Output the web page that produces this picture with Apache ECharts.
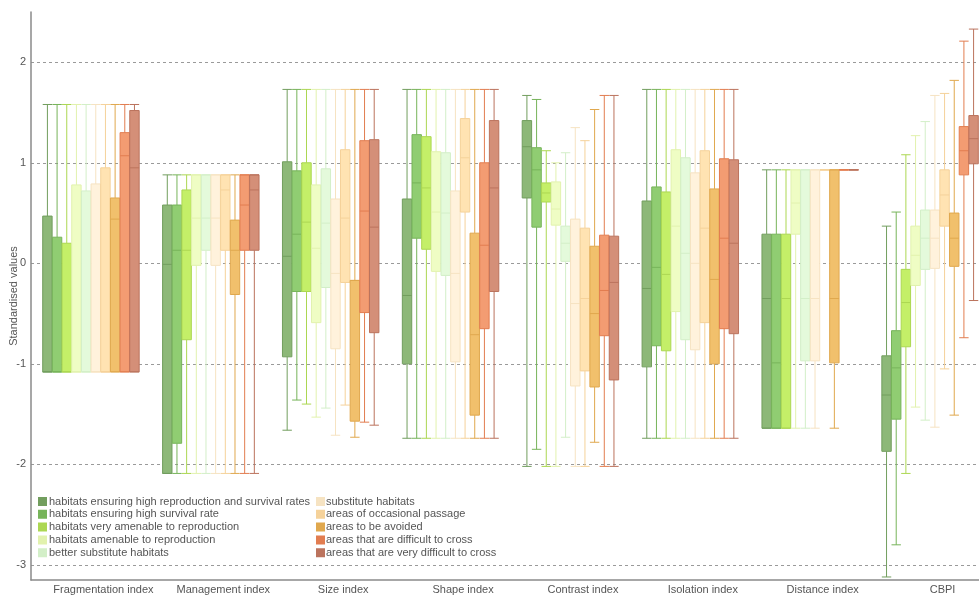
<!DOCTYPE html>
<html>
<head>
<meta charset="utf-8">
<script src="https://cdn.jsdelivr.net/npm/echarts@6/dist/echarts.min.js"></script>
<style>html,body{margin:0;padding:0;background:#fff}#c{width:979px;height:598px}</style>
</head>
<body>
<div id="c"></div>
<script>
const categories = ['Fragmentation index','Management index','Size index','Shape index','Contrast index','Isolation index','Distance index','CBPI'];
const seriesNames = [
  'habitats ensuring high reproduction and survival rates',
  'habitats ensuring high survival rate',
  'habitats very amenable to reproduction',
  'habitats amenable to reproduction',
  'better substitute habitats',
  'substitute habitats',
  'areas of occasional passage',
  'areas to be avoided',
  'areas that are difficult to cross',
  'areas that are very difficult to cross'
];
const yTicks = [-3, -2, -1, 0, 1, 2];
// each box: [min, Q1, median, Q3, max]
const highReproSurvival = [[-1.08,-1.08,-1.08,0.47,1.58],[-2.09,-2.09,-0.01,0.58,0.88],[-1.66,-0.93,0.07,1.01,1.73],[-1.74,-1.0,-0.32,0.64,1.73],[-2.02,0.65,1.16,1.42,1.67],[-1.74,-1.03,-0.25,0.62,1.73],[-1.64,-1.64,-0.35,0.29,0.93],[-3.12,-1.87,-1.31,-0.92,0.37]];
const highSurvival = [[-1.08,-1.08,-1.08,0.26,1.58],[-2.09,-1.79,0.13,0.58,0.88],[-1.36,-0.28,0.29,0.92,1.73],[-1.74,0.25,0.80,1.28,1.73],[-1.85,0.36,0.93,1.15,1.63],[-1.74,-0.82,-0.04,0.76,1.73],[-1.64,-1.64,-0.99,0.29,0.93],[-2.80,-1.55,-1.04,-0.67,0.51]];
const veryAmenable = [[-1.08,-1.08,-1.08,0.20,1.58],[-2.09,-0.76,0.13,0.73,0.88],[-1.40,-0.28,0.41,1.00,1.73],[-1.74,0.14,0.75,1.26,1.73],[-2.02,0.61,0.70,0.80,1.12],[-1.74,-0.87,-0.11,0.71,1.73],[-1.64,-1.64,-0.35,0.29,0.93],[-2.09,-0.83,-0.39,-0.06,1.08]];
const amenable = [[-1.08,-1.08,-1.08,0.78,1.58],[-2.09,-0.02,0.45,0.88,0.88],[-1.53,-0.59,0.15,0.78,1.73],[-1.74,-0.08,0.51,1.11,1.73],[-2.02,0.38,0.54,0.81,1.00],[-1.74,-0.48,0.37,1.13,1.73],[-1.64,0.29,0.60,0.93,0.93],[-1.43,-0.22,0.08,0.37,1.27]];
const betterSubstitute = [[-1.08,-1.08,-1.08,0.72,1.58],[-2.09,0.13,0.45,0.88,0.88],[-1.44,-0.24,0.40,0.94,1.73],[-1.74,-0.12,0.50,1.10,1.73],[-1.73,0.02,0.20,0.37,1.10],[-1.74,-0.76,0.10,1.05,1.73],[-1.64,-0.97,-0.35,0.93,0.93],[-1.56,-0.06,0.25,0.53,1.41]];
const substitute = [[-1.08,-1.08,-1.08,0.79,1.58],[-2.09,-0.02,0.45,0.88,0.88],[-1.71,-0.85,-0.10,0.64,1.73],[-1.74,-0.98,-0.10,0.72,1.73],[-2.02,-1.22,-0.40,0.44,1.35],[-1.74,-0.86,0.0,0.90,1.73],[-1.64,-0.97,-0.35,0.93,0.93],[-1.63,-0.05,0.25,0.53,1.67]];
const occasionalPassage = [[-1.08,-1.08,-1.08,0.95,1.58],[-2.09,0.13,0.73,0.88,0.88],[-1.41,-0.19,0.45,1.13,1.73],[-1.74,0.51,1.05,1.44,1.73],[-2.02,-1.07,-0.35,0.35,1.22],[-1.74,-0.59,0.35,1.12,1.73],[0.93,0.93,0.93,0.93,0.93],[-1.05,0.37,0.68,0.93,1.69]];
const avoided = [[-1.08,-1.08,0.44,0.65,1.58],[-2.09,-0.31,0.13,0.43,0.88],[-1.73,-1.57,-0.17,-0.17,1.73],[-1.74,-1.51,-0.71,0.30,1.73],[-1.78,-1.23,-0.50,0.17,1.53],[-1.74,-1.0,-0.16,0.74,1.73],[-1.64,-0.99,-0.35,0.93,0.93],[-1.51,-0.03,0.25,0.50,1.82]];
const difficult = [[-1.08,-1.08,1.07,1.30,1.58],[-2.09,0.13,0.58,0.88,0.88],[-1.58,-0.49,0.52,1.22,1.73],[-1.74,-0.65,0.18,1.0,1.73],[-2.02,-0.72,-0.27,0.28,1.67],[-1.74,-0.65,0.25,1.04,1.73],[0.93,0.93,0.93,0.93,0.93],[-0.74,0.88,1.12,1.36,2.21]];
const veryDifficult = [[-1.08,-1.08,0.95,1.52,1.58],[-2.09,0.13,0.73,0.88,0.88],[-1.61,-0.69,0.36,1.23,1.73],[-1.74,-0.28,0.75,1.42,1.73],[-2.02,-1.16,-0.19,0.27,1.67],[-1.74,-0.70,0.20,1.03,1.73],[0.93,0.93,0.93,0.93,0.93],[-0.37,0.99,1.24,1.47,2.33]];

const seriesData = [highReproSurvival, highSurvival, veryAmenable, amenable, betterSubstitute, substitute, occasionalPassage, avoided, difficult, veryDifficult];
const fills = ['#8db878','#90cd72','#c4ef68','#effdc4','#e4fadb','#fff2dc','#ffe3b2','#f1c06c','#f39c72','#d48f78'];
const borders = ['#729e5e','#77b45a','#acd752','#e2f2ae','#d3efc8','#f6e3c2','#f5d29a','#e0a84e','#e27d50','#bb735d'];

const chart = echarts.init(document.getElementById('c'));
const font = 'Liberation Sans, Arial, sans-serif';
chart.setOption({
  animation: false,
  textStyle: { fontFamily: font },
  grid: { left: 31, right: -11, top: 12, bottom: 18, containLabel: false, outerBoundsMode: 'none' },
  legend: [
    { data: seriesNames.slice(0,5), orient: 'vertical', left: 33, top: 491, itemWidth: 7, itemHeight: 7, itemGap: 1.8, icon: 'rect',
      textStyle: { fontSize: 11, color: '#555', fontFamily: font, padding: [0,0,0,-2] }, selectedMode: false },
    { data: seriesNames.slice(5), orient: 'vertical', left: 311, top: 491, itemWidth: 7, itemHeight: 7, itemGap: 1.8, icon: 'rect',
      textStyle: { fontSize: 11, color: '#555', fontFamily: font, padding: [0,0,0,-3] }, selectedMode: false }
  ],
  xAxis: {
    type: 'category', data: categories, boundaryGap: true,
    axisLine: { onZero: false, lineStyle: { color: '#8a8a8a', width: 1.5 } },
    axisTick: { show: false },
    axisLabel: { interval: 0, fontSize: 11, color: '#555', margin: 4, padding: [0,0,0,25], fontFamily: font, hideOverlap: false },
    splitLine: { show: false }
  },
  yAxis: {
    type: 'value', min: -3.15, max: 2.5,
    name: 'Standardised values', nameLocation: 'middle', nameGap: 12, nameMoveOverlap: false,
    nameTextStyle: { fontSize: 11, color: '#555', fontFamily: font },
    axisLine: { show: true, onZero: false, lineStyle: { color: '#8a8a8a', width: 1.5 } },
    axisTick: { show: false, customValues: yTicks },
    axisLabel: { fontSize: 11, color: '#555', margin: 5, customValues: yTicks, fontFamily: font },
    splitLine: { show: true, lineStyle: { color: '#9a9a9a', type: [3,3], width: 1 } }
  },
  series: seriesData.map((d, i) => ({
    name: seriesNames[i], type: 'boxplot', data: d,
    boxWidth: [9.4, 9.4],
    itemStyle: { color: fills[i], borderColor: borders[i], borderWidth: 1 },
    emphasis: { disabled: true }
  }))
});
</script>
</body>
</html>
